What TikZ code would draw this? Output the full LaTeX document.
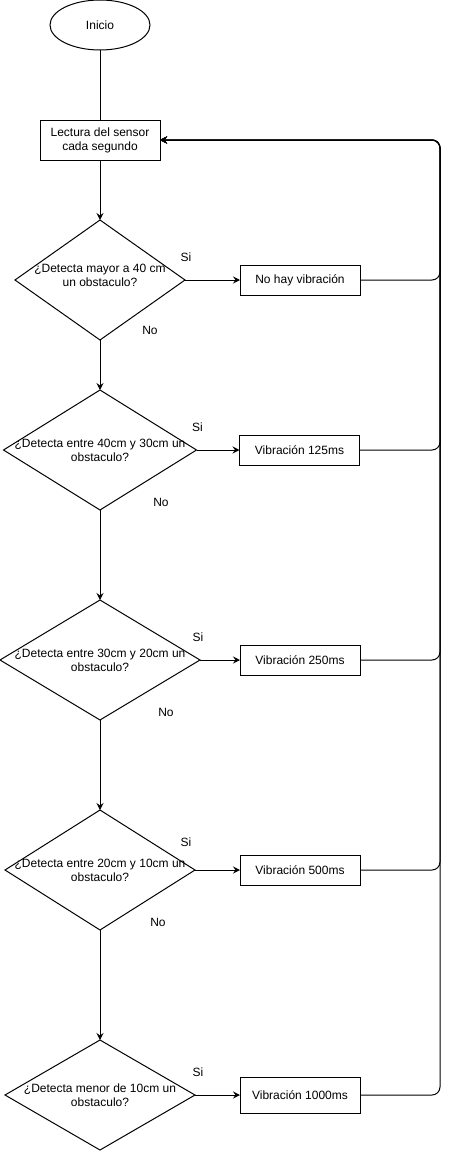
\documentclass[tikz,border=0pt]{standalone}
\usepackage{fontspec}
\setmainfont{Liberation Sans}
\usetikzlibrary{positioning}
\usetikzlibrary{shapes.geometric}
\usetikzlibrary{arrows.meta}
\tikzset{
  inicio/.style={ellipse, draw, minimum width=100pt, minimum height=50pt, inner sep=0pt, outer sep=0pt},
  proceso/.style={rectangle, draw, minimum width=120pt, minimum height=30pt, align=center, inner sep=0pt, outer sep=0pt},
  decision/.style={diamond, draw, inner sep=0pt, outer sep=0pt},
  pregunta/.style={align=center, inner sep=0pt},
  flecha/.style={-{Stealth[length=7pt,width=7pt,inset=2.5pt]}},
  etiqueta/.style={inner sep=0pt},
}

\begin{document}
\begin{tikzpicture}[x=1pt, y=1pt, line width=1pt, font=\fontsize{12}{14}\selectfont]
        \useasboundingbox (0,0) rectangle (449,-1151);
        % inicio y lectura
        \node[inicio] (ini) at (100,-25) {Inicio};
        \node[proceso, minimum height=40pt, below=70pt of ini] (lect) {Lectura del sensor\\cada segundo};

        % decisiones
        \node[decision, minimum width=170pt, minimum height=120pt, below=60pt of lect, label={[pregunta, yshift=5pt]center:{¿Detecta mayor a 40 cm\\un obstaculo?}}] (d1) {};
        \node[decision, minimum width=193pt, minimum height=120pt, below=50pt of d1, label={[pregunta]center:{¿Detecta entre 40cm y 30cm un\\obstaculo?}}] (d2) {};
        \node[decision, minimum width=200pt, minimum height=120pt, below=90pt of d2, label={[pregunta]center:{¿Detecta entre 30cm y 20cm un\\obstaculo?}}] (d3) {};
        \node[decision, minimum width=190pt, minimum height=120pt, below=90pt of d3, label={[pregunta]center:{¿Detecta entre 20cm y 10cm un\\obstaculo?}}] (d4) {};
        \node[decision, minimum width=190pt, minimum height=110pt, below=110pt of d4, label={[pregunta]center:{¿Detecta menor de 10cm un\\obstaculo?}}] (d5) {};

        % cajas de vibracion
        \node[proceso, right=55pt of d1] (v0) {No hay vibración};
        \node[proceso, right=43pt of d2] (v1) {Vibración 125ms};
        \node[proceso, right=40pt of d3] (v2) {Vibración 250ms};
        \node[proceso, right=45pt of d4] (v3) {Vibración 500ms};
        \node[proceso, minimum height=36pt, right=45pt of d5] (v4) {Vibración 1000ms};

        % Si / No
        \node[etiqueta, xshift=1pt, yshift=23pt] (si1) at (d1.east) {Si};
        \node[etiqueta, xshift=50pt, yshift=10pt] (no1) at (d1.south) {No};
        \node[etiqueta, xshift=1pt, yshift=23pt] (si2) at (d2.east) {Si};
        \node[etiqueta, xshift=61pt, yshift=8pt] (no2) at (d2.south) {No};
        \node[etiqueta, xshift=-2pt, yshift=23pt] (si3) at (d3.east) {Si};
        \node[etiqueta, xshift=66pt, yshift=8pt] (no3) at (d3.south) {No};
        \node[etiqueta, xshift=-9pt, yshift=28pt] (si4) at (d4.east) {Si};
        \node[etiqueta, xshift=58pt, yshift=8pt] (no4) at (d4.south) {No};
        \node[etiqueta, xshift=3pt, yshift=23pt] (si5) at (d5.east) {Si};

        % edges
        \draw (ini) -- (lect);
        \draw[flecha] (lect) -- (d1);
        \draw[flecha] (d1) -- (d2);
        \draw[flecha] (d2) -- (d3);
        \draw[flecha] (d3) -- (d4);
        \draw[flecha] (d4) -- (d5);
        \draw[flecha] (d1) -- (v0);
        \draw[flecha] (d2) -- (v1);
        \draw[flecha] (d3) -- (v2);
        \draw[flecha] (d4) -- (v3);
        \draw[flecha] (d5) -- (v4);

        % retorno a la lectura
        \coordinate (esq) at (440,-140);
        \foreach \v in {v0,v1,v2,v3,v4}
            \draw[flecha, rounded corners=8pt] (\v.east) -| (esq) -- (lect.east);
\end{tikzpicture}
\end{document}
